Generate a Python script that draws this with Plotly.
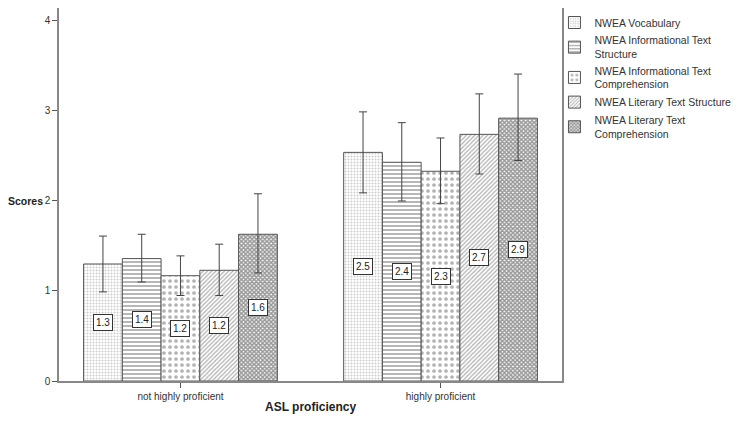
import plotly.graph_objects as go

categories = ["not highly proficient", "highly proficient"]
series_names = [
    "NWEA Vocabulary",
    "NWEA Informational Text<br>Structure",
    "NWEA Informational Text<br>Comprehension",
    "NWEA Literary Text Structure",
    "NWEA Literary Text<br>Comprehension",
]
means = [
    [1.30, 2.54],
    [1.36, 2.43],
    [1.17, 2.33],
    [1.23, 2.74],
    [1.63, 2.92],
]
ci_upper = [
    [1.61, 2.99],
    [1.63, 2.87],
    [1.39, 2.70],
    [1.52, 3.19],
    [2.08, 3.41],
]
ci_lower = [
    [0.99, 2.09],
    [1.10, 2.00],
    [0.95, 1.97],
    [0.95, 2.30],
    [1.20, 2.45],
]

patterns = [
    dict(shape=".", size=3, solidity=0.35, fgcolor="#999999", bgcolor="white"),
    dict(shape="-", size=4, solidity=0.5, fgcolor="#707070", bgcolor="white"),
    dict(shape=".", size=6, solidity=0.3, fgcolor="#666666", bgcolor="white"),
    dict(shape="/", size=3, solidity=0.4, fgcolor="#606060", bgcolor="white"),
    dict(shape="x", size=3, solidity=0.75, fgcolor="#333333", bgcolor="white"),
]

bargap = 0.255
n = len(series_names)
w = (1 - bargap) / n

fig = go.Figure()
annotations = []
for i, name in enumerate(series_names):
    m = means[i]
    up = [u - v for u, v in zip(ci_upper[i], m)]
    lo = [v - l for v, l in zip(m, ci_lower[i])]
    fig.add_trace(go.Bar(
        x=categories, y=m, name=name,
        marker=dict(color="white", line=dict(color="#555555", width=1), pattern=patterns[i]),
        error_y=dict(type="data", symmetric=False, array=up, arrayminus=lo,
                     color="#444444", thickness=1, width=4),
    ))
    off = -(1 - bargap) / 2 + w * (i + 0.5)
    for j, v in enumerate(m):
        annotations.append(dict(
            x=j + off, y=v / 2, xref="x", yref="y", text=f"{v:.1f}", showarrow=False,
            bgcolor="white", bordercolor="#333333", borderwidth=1, borderpad=2,
            font=dict(size=10, color="#222222"),
        ))

annotations.append(dict(x=-0.0298, y=2, xref="paper", yref="y", text="<b>Scores</b>",
                        showarrow=False, xanchor="right", borderpad=0,
                        font=dict(size=10.5, color="#222222")))
annotations.append(dict(x=0.5, y=-0.071, xref="paper", yref="paper", text="<b>ASL proficiency</b>",
                        showarrow=False, yanchor="middle", font=dict(size=12, color="#222222")))

fig.update_layout(
    width=734, height=415,
    margin=dict(l=51, r=180, t=0, b=42, autoexpand=False),
    barmode="group", bargap=bargap, bargroupgap=0,
    plot_bgcolor="white", paper_bgcolor="white",
    font=dict(family="Arial, Liberation Sans, sans-serif", size=10, color="#333333"),
    showlegend=True,
    legend=dict(x=0.985, y=1.0, xanchor="left", yanchor="top",
                font=dict(size=10.5, color="#333333"),
                itemwidth=30, bgcolor="rgba(0,0,0,0)"),
    annotations=annotations,
)
fig.update_xaxes(range=[-0.467, 1.467], showline=True, linecolor="#888888", linewidth=1.5,
                 mirror=True, ticks="outside", ticklen=5, tickcolor="#555555",
                 showgrid=False, tickfont=dict(size=10, color="#333333"))
fig.update_yaxes(range=[0, 4.144], showline=True, linecolor="#888888", linewidth=1.5,
                 mirror=True, ticks="outside", ticklen=5, tickcolor="#555555",
                 tickvals=[0, 1, 2, 3, 4], showgrid=False, zeroline=False,
                 tickfont=dict(size=10, color="#333333"))

fig.write_html("out.html")
